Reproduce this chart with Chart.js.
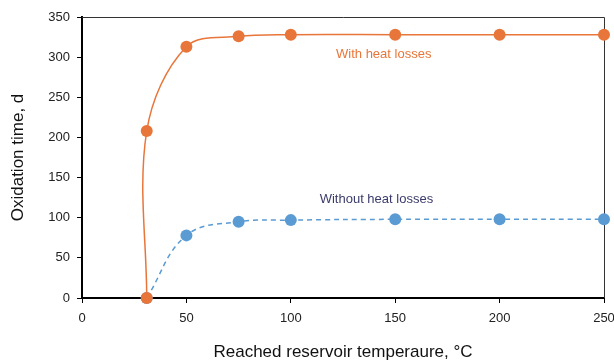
<!DOCTYPE html>
<html>
<head>
<meta charset="utf-8">
<script src="https://cdn.jsdelivr.net/npm/chart.js@4"></script>
<style>
  html, body { margin: 0; padding: 0; background: #fff; overflow: hidden; }
  #wrap { width: 614px; height: 360px; position: relative; }
</style>
</head>
<body>
<div id="wrap"><canvas id="chart"></canvas></div>
<script>
// Oxidation time vs reached reservoir temperature
const withLossX = [31, 31, 50, 75, 100, 150, 200, 250];
const withLossY = [0, 208, 313, 326, 328, 328, 328, 328];
const noLossX = [31, 50, 75, 100, 150, 200, 250];
const noLossY = [0, 78, 95, 97, 98, 98, 98];

const xTicks = [0, 50, 100, 150, 200, 250];
const yTicks = [0, 50, 100, 150, 200, 250, 300, 350];

// text labels, placed in data units
const labels = [
    { text: 'With heat losses', x: 144.5, y: 304, color: '#E8763A' },
    { text: 'Without heat losses', x: 141, y: 123, color: '#3B3B6B' }
];

const ORANGE = '#E8763A';
const BLUE = '#5B9BD3';
const FONT = '"Liberation Sans", Arial, sans-serif';

const toPoints = (xs, ys) => xs.map((x, i) => ({ x: x, y: ys[i] }));

// frame on top/right + curve labels
const extras = {
    id: 'extras',
    beforeDatasetsDraw(chart) {
        const { ctx, chartArea: a } = chart;
        ctx.save();
        ctx.strokeStyle = '#333';
        ctx.lineWidth = 1;
        ctx.beginPath();
        ctx.moveTo(a.left, a.top + 0.5);
        ctx.lineTo(a.right + 0.5, a.top + 0.5);
        ctx.lineTo(a.right + 0.5, a.bottom);
        ctx.stroke();
        ctx.restore();
    },
    afterDatasetsDraw(chart) {
        const { ctx, scales } = chart;
        ctx.save();
        ctx.font = '13px ' + FONT;
        ctx.textAlign = 'center';
        ctx.textBaseline = 'middle';
        labels.forEach(l => {
            ctx.fillStyle = l.color;
            ctx.fillText(l.text, scales.x.getPixelForValue(l.x), scales.y.getPixelForValue(l.y));
        });
        ctx.restore();
    }
};

new Chart(document.getElementById('chart'), {
    type: 'scatter',
    data: {
        datasets: [{
            label: 'With heat losses',
            data: toPoints(withLossX, withLossY),
            showLine: true,
            tension: 0.35,
            borderColor: ORANGE,
            backgroundColor: ORANGE,
            borderWidth: 1.5,
            pointRadius: 6,
            pointBorderWidth: 0,
            pointHoverRadius: 6
        }, {
            label: 'Without heat losses',
            data: toPoints(noLossX, noLossY),
            showLine: true,
            tension: 0.4,
            borderColor: BLUE,
            backgroundColor: BLUE,
            borderWidth: 1.5,
            borderDash: [5, 4],
            pointRadius: 6,
            pointBorderWidth: 0,
            pointHoverRadius: 6
        }]
    },
    options: {
        responsive: true,
        maintainAspectRatio: false,
        animation: false,
        clip: false,
        layout: { padding: { top: 17, right: 10 } },
        plugins: {
            legend: { display: false },
            tooltip: { enabled: false }
        },
        scales: {
            x: {
                type: 'linear',
                min: 0,
                max: 250,
                afterBuildTicks: s => { s.ticks = xTicks.map(v => ({ value: v })); },
                afterFit: s => { s.height = 62; s.paddingLeft = 0; s.paddingRight = 0; },
                border: { color: '#000', width: 2 },
                grid: { drawOnChartArea: false, color: '#000', tickLength: 5, tickWidth: 1 },
                ticks: { color: '#222', font: { size: 13, family: FONT }, padding: 8, maxRotation: 0 },
                title: {
                    display: true,
                    text: 'Reached reservoir temperaure, °C',
                    color: '#111',
                    font: { size: 17, family: FONT },
                    padding: { top: 12, bottom: -3 }
                }
            },
            y: {
                min: 0,
                max: 350,
                afterBuildTicks: s => { s.ticks = yTicks.map(v => ({ value: v })); },
                afterFit: s => { s.width = 82; },
                border: { color: '#000', width: 2 },
                grid: { drawOnChartArea: false, color: '#000', tickLength: 5, tickWidth: 1 },
                ticks: { color: '#222', font: { size: 13, family: FONT }, padding: 7 },
                title: {
                    display: true,
                    text: 'Oxidation time, d',
                    color: '#111',
                    font: { size: 17, family: FONT },
                    padding: { top: 8, bottom: 8 }
                }
            }
        }
    },
    plugins: [extras]
});
</script>
</body>
</html>
